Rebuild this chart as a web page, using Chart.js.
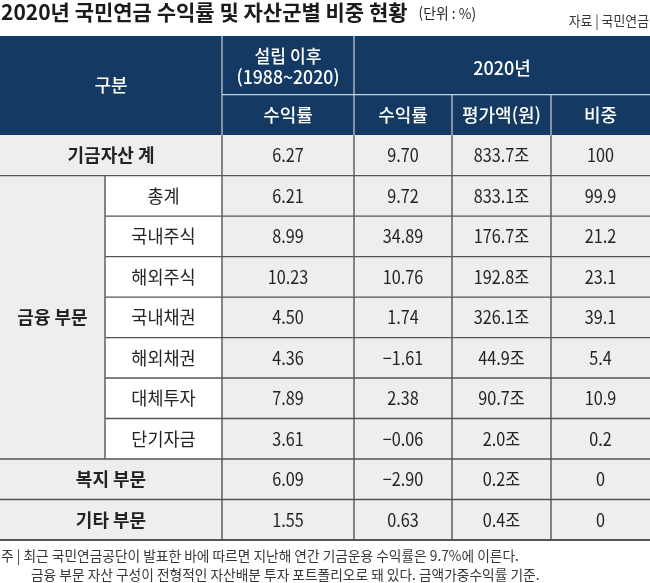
<!DOCTYPE html>
<html lang="ko">
<head>
<meta charset="utf-8">
<title>2020년 국민연금 수익률 및 자산군별 비중 현황</title>
<script src="https://cdn.jsdelivr.net/npm/chart.js@4.4.1/dist/chart.umd.min.js"></script>
<style>
  html, body { margin: 0; padding: 0; background: #fff; }
  #wrap { width: 650px; height: 583px; }
</style>
</head>
<body>
<div id="wrap"><canvas id="tableChart" width="650" height="583"></canvas></div>
<script>
// 2020년 국민연금 수익률 및 자산군별 비중 (단위: %)

// 행 구분
const groupLabels = ['기금자산 계', '금융 부문', '금융 부문', '금융 부문', '금융 부문', '금융 부문', '금융 부문', '금융 부문', '복지 부문', '기타 부문'];
const subLabels = ['', '총계', '국내주식', '해외주식', '국내채권', '해외채권', '대체투자', '단기자금', '', ''];

// 값
const sinceReturn = [6.27, 6.21, 8.99, 10.23, 4.50, 4.36, 7.89, 3.61, 6.09, 1.55];   // 설립 이후 수익률
const return2020 = [9.70, 9.72, 34.89, 10.76, 1.74, -1.61, 2.38, -0.06, -2.90, 0.63]; // 2020년 수익률
const valuation = [833.7, 833.1, 176.7, 192.8, 326.1, 44.9, 90.7, 2.0, 0.2, 0.4];     // 평가액(조원)
const weight = [100, 99.9, 21.2, 23.1, 39.1, 5.4, 10.9, 0.2, 0, 0];                  // 비중

// 헤더 텍스트
const headTop = ['설립 이후', '(1988~2020)'];
const headYear = '2020년';
const headCols = ['수익률', '수익률', '평가액(원)', '비중'];

// 레이아웃 (열 경계, 색상)
const colEdges = [0, 105, 222, 354, 452, 551, 650];
const NAVY = '#143963';
const GRAY = '#eeeeee';
const LINE = '#5a5353';
const TEXT = '#262122';
const FONT = '"Noto Sans CJK KR", "Noto Sans", sans-serif';

function fmtReturn(v) {
    const s = Math.abs(v).toFixed(2);
    return v < 0 ? '\u2212' + s : s;
}

// 글자를 가로로 살짝 눌러서 그리기 (신문 서체 느낌)
function drawText(ctx, str, x, y, size, weight, color, sx, align) {
    ctx.save();
    ctx.translate(x, y);
    ctx.scale(sx, 1);
    ctx.font = weight + ' ' + size + 'px ' + FONT;
    ctx.fillStyle = color;
    ctx.textAlign = align || 'center';
    ctx.textBaseline = 'middle';
    ctx.fillText(str, 0, 0);
    ctx.restore();
}

function hLine(ctx, x0, x1, y, color, w) {
    ctx.beginPath();
    ctx.strokeStyle = color;
    ctx.lineWidth = w;
    ctx.moveTo(x0, y);
    ctx.lineTo(x1, y);
    ctx.stroke();
}

function vLine(ctx, x, y0, y1, color, w) {
    ctx.beginPath();
    ctx.strokeStyle = color;
    ctx.lineWidth = w;
    ctx.moveTo(x, y0);
    ctx.lineTo(x, y1);
    ctx.stroke();
}

const colCenter = i => (colEdges[i] + colEdges[i + 1]) / 2;

// 값 열마다 데이터셋 하나 (점은 보이지 않고, 위치만 사용)
const valueColumns = [
    { data: sinceReturn, fmt: fmtReturn, col: 2 },
    { data: return2020, fmt: fmtReturn, col: 3 },
    { data: valuation, fmt: v => v.toFixed(1) + '조', col: 4 },
    { data: weight, fmt: v => String(v), col: 5 }
];

const datasets = valueColumns.map(c => ({
    label: headCols[c.col - 2],
    data: c.data.map((v, i) => ({ x: colCenter(c.col), y: i + 0.5, v: v })),
    pointRadius: 0,
    showLine: false,
    fmt: c.fmt
}));

// 표 그리기 플러그인
const tablePlugin = {
    id: 'tablePlugin',
    beforeDatasetsDraw(chart) {
        const ctx = chart.ctx;
        const xs = chart.scales.x;
        const ys = chart.scales.y;
        const X = v => xs.getPixelForValue(v);
        const Y = v => ys.getPixelForValue(v);
        const n = groupLabels.length;

        ctx.save();
        // 헤더 배경
        ctx.fillStyle = NAVY;
        ctx.fillRect(X(0), Y(ys.min), X(650) - X(0), Y(0) - Y(ys.min));

        // 본문 배경
        for (let i = 0; i < n; i++) {
            ctx.fillStyle = GRAY;
            ctx.fillRect(X(0), Y(i), X(650) - X(0), Y(i + 1) - Y(i));
            if (subLabels[i]) {
                ctx.fillStyle = '#ffffff';
                ctx.fillRect(X(colEdges[1]), Y(i), X(colEdges[2]) - X(colEdges[1]), Y(i + 1) - Y(i));
            }
        }

        // 헤더 구분선 (밝은 색)
        const hl = '#c9d1dc';
        vLine(ctx, X(colEdges[2]), Y(ys.min), Y(0), hl, 1.2);
        vLine(ctx, X(colEdges[3]), Y(ys.min), Y(0), hl, 1.2);
        vLine(ctx, X(colEdges[4]), Y(-1), Y(0), hl, 1.2);
        vLine(ctx, X(colEdges[5]), Y(-1), Y(0), hl, 1.2);
        hLine(ctx, X(colEdges[2]), X(650), Y(-1), hl, 1.2);

        // 본문 가로선
        for (let i = 1; i < n; i++) {
            const inner = subLabels[i] && subLabels[i - 1];
            hLine(ctx, X(inner ? colEdges[1] : 0), X(650), Y(i), LINE, 1.4);
        }
        hLine(ctx, X(0), X(650), Y(n), LINE, 2);

        // 본문 세로선
        for (let i = 0; i < n; i++) {
            if (subLabels[i]) vLine(ctx, X(colEdges[1]), Y(i), Y(i + 1), LINE, 1.4);
        }
        for (let c = 2; c <= 5; c++) vLine(ctx, X(colEdges[c]), Y(0), Y(n), LINE, 1.4);

        // 헤더 텍스트
        drawText(ctx, '구분', X(colEdges[2] / 2), Y(-1.225), 18, '500', '#fff', 1.0);
        const r1 = (Y(ys.min) + Y(-1)) / 2;
        drawText(ctx, headTop[0], X(colCenter(2)), r1 - 9, 18, '500', '#fff', 0.95);
        drawText(ctx, headTop[1], X(colCenter(2)), r1 + 12, 18, '500', '#fff', 0.98);
        drawText(ctx, headYear, X((colEdges[3] + colEdges[6]) / 2), r1 + 3, 18, '500', '#fff', 1.0);
        headCols.forEach((t, k) => {
            drawText(ctx, t, X(colCenter(k + 2)), Y(-0.5), 18, '500', '#fff', 1.0);
        });

        // 행 라벨 (같은 구분은 묶어서 한 번만)
        let start = 0;
        for (let i = 1; i <= n; i++) {
            if (i === n || groupLabels[i] !== groupLabels[start]) {
                const right = subLabels[start] ? colEdges[1] : colEdges[2];
                drawText(ctx, groupLabels[start], X(right / 2), Y((start + i) / 2), 18, 'bold', TEXT, 1.0);
                start = i;
            }
        }
        subLabels.forEach((t, i) => {
            if (t) drawText(ctx, t, X(colCenter(1)), Y(i + 0.5), 18, 'normal', TEXT, 0.97);
        });
        ctx.restore();
    },
    afterDatasetsDraw(chart) {
        const ctx = chart.ctx;
        chart.data.datasets.forEach((ds, d) => {
            const meta = chart.getDatasetMeta(d);
            meta.data.forEach((pt, i) => {
                drawText(ctx, ds.fmt(ds.data[i].v), pt.x, pt.y, 18, 'normal', TEXT, 0.9);
            });
        });

        // 제목, 출처, 주석
        const title = '2020년 국민연금 수익률 및 자산군별 비중 현황';
        ctx.save();
        ctx.font = 'bold 21px ' + FONT;
        const tw = ctx.measureText(title).width;
        ctx.restore();
        drawText(ctx, title, 1, 12, 21, 'bold', '#1d1a1b', 1.0, 'left');
        drawText(ctx, '(단위 : %)', tw + 12, 13, 15, 'normal', '#2a2627', 0.92, 'left');
        drawText(ctx, '자료 | 국민연금', 649, 21, 14, 'normal', '#3a3637', 0.92, 'right');
        drawText(ctx, '주 | 최근 국민연금공단이 발표한 바에 따르면 지난해 연간 기금운용 수익률은 9.7%에 이른다.', 1, 556, 14, 'normal', '#3a3637', 0.98, 'left');
        drawText(ctx, '금융 부문 자산 구성이 전형적인 자산배분 투자 포트폴리오로 돼 있다. 금액가중수익률 기준.', 31, 575, 14, 'normal', '#3a3637', 0.98, 'left');
    }
};

const tableChart = new Chart(document.getElementById('tableChart'), {
    type: 'scatter',
    data: { datasets: datasets },
    options: {
        responsive: false,
        animation: false,
        events: [],
        layout: { padding: { top: 36, bottom: 43, left: 0, right: 0 }, autoPadding: false },
        plugins: { legend: { display: false }, tooltip: { enabled: false }, title: { display: false } },
        scales: {
            x: { type: 'linear', min: 0, max: 650, display: false },
            y: { type: 'linear', min: -2.45, max: groupLabels.length, reverse: true, display: false }
        }
    },
    plugins: [tablePlugin]
});

console.log('표 렌더링 완료');
</script>
</body>
</html>
